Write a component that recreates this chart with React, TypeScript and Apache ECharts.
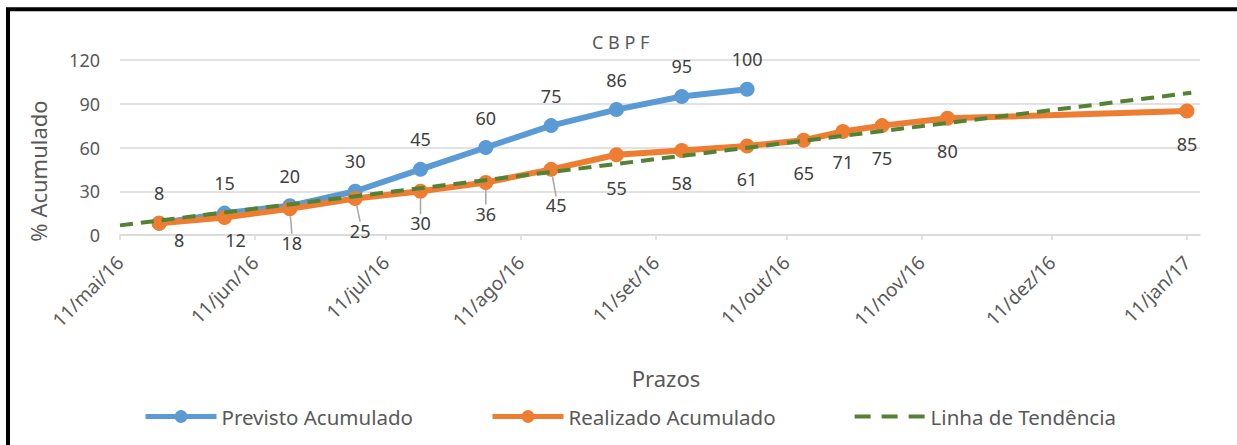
import React, { useEffect, useRef } from 'react';
import * as echarts from 'echarts';

// ---- Data ----
const blueName = 'Previsto Acumulado';
const orangeName = 'Realizado Acumulado';
const trendName = 'Linha de Tendência';

const blueDates = [
  '2016-05-20', '2016-06-04', '2016-06-19', '2016-07-04', '2016-07-19',
  '2016-08-03', '2016-08-18', '2016-09-02', '2016-09-17', '2016-10-02',
];
const blueValues = [8, 15, 20, 30, 45, 60, 75, 86, 95, 100];

const orangeDates = [
  '2016-05-20', '2016-06-04', '2016-06-19', '2016-07-04', '2016-07-19',
  '2016-08-03', '2016-08-18', '2016-09-02', '2016-09-17', '2016-10-02',
  '2016-10-15', '2016-10-24', '2016-11-02', '2016-11-17', '2017-01-11',
];
const orangeValues = [8, 12, 18, 25, 30, 36, 45, 55, 58, 61, 65, 71, 75, 80, 85];

const trendDates = ['2016-05-11', '2017-01-12'];
const trendValues = [6.6, 97.5];

const xTickDates = [
  '2016-05-11', '2016-06-11', '2016-07-11', '2016-08-11', '2016-09-11',
  '2016-10-11', '2016-11-11', '2016-12-11', '2017-01-11',
];
const xTickLabels = [
  '11/mai/16', '11/jun/16', '11/jul/16', '11/ago/16', '11/set/16',
  '11/out/16', '11/nov/16', '11/dez/16', '11/jan/17',
];
const xMinDate = '2016-05-11';
const xMaxDate = '2017-01-14';
const yMin = 0;
const yMax = 120;
const yInterval = 30;

// ---- Label layout (positions, kept apart from the data) ----
const blueLabelDy = -30;
const orangeLabelOffsets: number[][] = [
  [20, 17], [11, 22], [2, 34], [5, 32], [0, 32], [0, 31], [5, 36], [0, 33],
  [0, 33], [0, 33], [0, 33], [0, 31], [0, 32], [0, 33], [0, 33],
];
const orangeLeader = [false, false, true, true, true, true, true, false, false, false, false, false, false, false, false];

const FONT = 'Noto Sans';
const BLUE = '#5B9BD5';
const ORANGE = '#ED7D31';
const GREEN = '#548235';
const GRID = '#d9d9d9';
const TEXT = '#595959';

const toTs = (s: string) => {
  const [y, m, d] = s.split('-').map(Number);
  return new Date(y, m - 1, d).getTime();
};

export default function App() {
  const ref = useRef<HTMLDivElement>(null);

  useEffect(() => {
    if (!ref.current) return;
    const chart = echarts.init(ref.current, undefined, { renderer: 'svg' });
    const tickTs = xTickDates.map(toTs);

    const option: any = {
      animation: false,
      textStyle: { fontFamily: FONT },
      title: {
        text: 'C B P F',
        left: 592,
        top: 33,
        padding: 0,
        textStyle: { fontSize: 18, fontWeight: 'normal', color: TEXT, fontFamily: FONT },
      },
      grid: { left: 120, right: 37, top: 60, bottom: 210, containLabel: false },
      legend: {
        left: 143,
        top: 406,
        padding: 0,
        itemWidth: 71,
        itemHeight: 16,
        itemGap: 77,
        textStyle: { fontSize: 20.5, color: TEXT, fontFamily: FONT },
        data: [
          { name: blueName, lineStyle: { width: 5 } },
          { name: orangeName, lineStyle: { width: 5 } },
          {
            name: trendName,
            itemStyle: { opacity: 0 },
            lineStyle: { width: 4, type: [16, 11] },
          },
        ],
      },
      xAxis: {
        type: 'value',
        min: toTs(xMinDate),
        max: toTs(xMaxDate),
        axisLine: { show: true, lineStyle: { color: GRID, width: 1.5 } },
        axisTick: {
          show: true,
          customValues: tickTs,
          length: 5,
          lineStyle: { color: GRID, width: 1.5 },
        },
        axisLabel: {
          customValues: tickTs,
          rotate: 45,
          margin: 24,
          fontSize: 19,
          color: TEXT,
          fontFamily: FONT,
          formatter: (v: number) => {
            const i = tickTs.indexOf(v);
            return i >= 0 ? xTickLabels[i] : '';
          },
        },
        splitLine: { show: false },
      },
      yAxis: {
        type: 'value',
        min: yMin,
        max: yMax,
        interval: yInterval,
        axisLine: { show: false },
        axisTick: { show: false },
        axisLabel: { fontSize: 18, color: TEXT, margin: 20, fontFamily: FONT },
        splitLine: { lineStyle: { color: GRID, width: 1.5 } },
      },
      graphic: [
        {
          type: 'rect',
          silent: true,
          shape: { x: 8, y: 9.3, width: 1260, height: 470 },
          style: { fill: 'none', stroke: '#000', lineWidth: 4 },
        },
        {
          type: 'text',
          x: 38,
          y: 171,
          rotation: Math.PI / 2,
          style: {
            text: '% Acumulado',
            fontSize: 22,
            fill: TEXT,
            fontFamily: FONT,
            align: 'center',
            verticalAlign: 'middle',
          },
        },
        {
          type: 'text',
          x: 666,
          y: 378,
          style: {
            text: 'Prazos',
            fontSize: 22,
            fill: TEXT,
            fontFamily: FONT,
            align: 'center',
            verticalAlign: 'middle',
          },
        },
      ],
      series: [
        {
          name: blueName,
          type: 'line',
          data: blueDates.map((d, i) => [toTs(d), blueValues[i]]),
          symbol: 'circle',
          symbolSize: 15,
          lineStyle: { color: BLUE, width: 6, join: 'round' },
          itemStyle: { color: BLUE },
          label: {
            show: true,
            position: 'inside',
            color: '#404040',
            fontSize: 18,
            fontFamily: FONT,
            formatter: (p: any) => String(p.value[1]),
          },
          labelLayout: { dy: blueLabelDy },
          z: 2,
        },
        {
          name: orangeName,
          type: 'line',
          data: orangeDates.map((d, i) => ({
            value: [toTs(d), orangeValues[i]],
            labelLine: { show: orangeLeader[i] },
          })),
          symbol: 'circle',
          symbolSize: 15,
          lineStyle: { color: ORANGE, width: 6, join: 'round' },
          itemStyle: { color: ORANGE },
          label: {
            show: true,
            position: 'inside',
            color: '#404040',
            fontSize: 18,
            fontFamily: FONT,
            formatter: (p: any) => String(p.value[1]),
          },
          labelLine: { show: false, lineStyle: { color: '#a6a6a6', width: 1.5 } },
          labelLayout: (p: any) => ({
            dx: orangeLabelOffsets[p.dataIndex][0],
            dy: orangeLabelOffsets[p.dataIndex][1],
          }),
          z: 3,
        },
        {
          name: trendName,
          type: 'line',
          data: trendDates.map((d, i) => [toTs(d), trendValues[i]]),
          symbol: 'none',
          silent: true,
          lineStyle: { color: GREEN, width: 4, type: [13, 8] },
          itemStyle: { color: GREEN },
          z: 4,
        },
      ],
    };

    chart.setOption(option);
    return () => chart.dispose();
  }, []);

  return (
    <div
      ref={ref}
      style={{ position: 'fixed', left: 0, top: 0, width: 1237, height: 445, background: '#fff' }}
    />
  );
}
